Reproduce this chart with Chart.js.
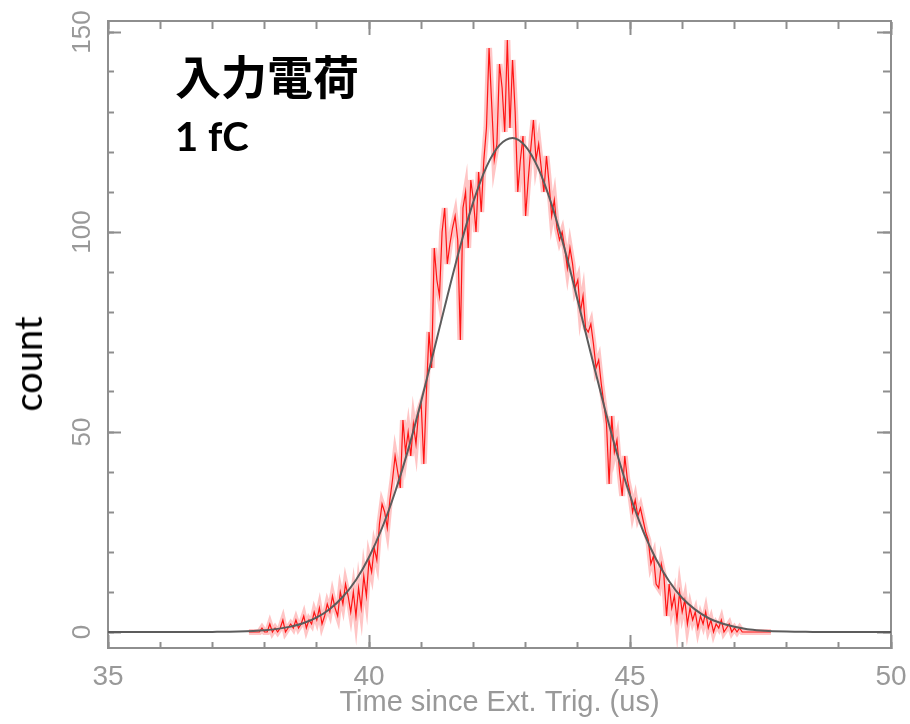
<!DOCTYPE html>
<html>
<head>
<meta charset="utf-8">
<script src="https://cdn.jsdelivr.net/npm/chart.js@4.4.1/dist/chart.umd.min.js"></script>
<style>
  html, body { margin: 0; padding: 0; background: #fff; }
  #wrap { position: relative; width: 910px; height: 724px; }
  #chart { position: absolute; left: 0; top: 0; }
  .note { position: absolute; color: #000; font-weight: 700; white-space: nowrap; }
  #charge { left: 175px; top: 51px; font-family: 'Noto Sans CJK JP'; font-size: 46px; line-height: 46px; }
  #value { left: 175px; top: 116px; font-family: Lato; font-size: 40px; line-height: 40px; }
  #ytitle { position: absolute; left: 27px; top: 364px; font-family: Lato; font-size: 38px; line-height: 38px;
            color: #000; white-space: nowrap; transform: translate(-50%, -50%) rotate(-90deg); }
</style>
</head>
<body>
<div id="wrap">
  <canvas id="chart" width="910" height="724"></canvas>
  <div class="note" id="charge">入力電荷</div>
  <div class="note" id="value">1 fC</div>
  <div id="ytitle">count</div>
</div>
<script>
// histogram: 0.05 us bins starting at 37.70 us
const binStart = 37.7;
const binWidth = 0.05;
const counts = [
  0, 0, 0, 0, 0, 1, 0, 0, 2, 0,
  1, 0, 1, 3, 0, 1, 2, 1, 3, 1,
  2, 4, 1, 3, 2, 5, 3, 6, 2, 4,
  7, 5, 9, 6, 4, 10, 7, 12, 9, 5,
  10, 4, 11, 6, 14, 9, 18, 15, 21, 18,
  27, 32, 30, 26, 33, 38, 44, 40, 36, 53,
  45, 50, 44, 52, 47, 55, 57, 42, 60, 75,
  66, 96, 88, 84, 100, 106, 92, 97, 101, 104,
  98, 73, 106, 110, 96, 113, 108, 100, 115, 105,
  118, 126, 146, 132, 118, 122, 142, 136, 125, 148,
  126, 143, 130, 110, 118, 124, 104, 113, 121, 128,
  118, 122, 116, 110, 119, 112, 104, 108, 101, 98,
  100, 96, 91, 96, 92, 86, 88, 80, 84, 76,
  75, 77, 72, 66, 68, 62, 57, 52, 37, 54,
  45, 48, 40, 34, 44, 38, 35, 30, 33, 29,
  31, 28, 25, 23, 17, 19, 12, 11, 17, 14,
  4, 12, 6, 9, 3, 10, 5, 8, 2, 6,
  3, 5, 1, 4, 2, 5, 1, 3, 0, 2,
  1, 3, 0, 1, 2, 0, 1, 0, 1, 0,
  0, 0, 0, 0, 0, 0, 0, 0, 0, 0,
  0
];

// gaussian fit curve
const fitTimes = [
  35, 36, 36.5, 37, 37.5,
  38, 38.25, 38.5, 38.75, 39, 39.25, 39.5, 39.75, 40, 40.25, 40.5, 40.75,
  41, 41.25, 41.5, 41.75, 42, 42.25, 42.5, 42.75, 43, 43.25, 43.5, 43.75,
  44, 44.25, 44.5, 44.75, 45, 45.25, 45.5, 45.75, 46, 46.25, 46.5, 46.75,
  47, 47.25, 47.5, 48, 48.5, 49, 50
];
const fitCounts = [
  0, 0, 0.01, 0.03, 0.12,
  0.43, 0.78, 1.34, 2.25, 3.66, 5.77, 8.81, 13.0, 18.7, 26.0, 35.0, 45.6,
  57.7, 70.7, 83.9, 96.5, 107.6, 116.3, 121.7, 123.5, 121.4, 115.7, 106.8, 95.6,
  82.8, 69.6, 56.7, 44.7, 34.2, 25.3, 18.2, 12.7, 8.5, 5.6, 3.5, 2.2,
  1.3, 0.7, 0.4, 0.1, 0.03, 0, 0
];

const xTicks = { min: 35, max: 50, major: 5, minor: 1 };
const yTicks = { min: -4, max: 152.75, major: 50, minor: 10 };

const frameColor = '#8e8e8e';
const labelColor = '#999999';

Chart.defaults.font.family = "'Liberation Sans', Arial, sans-serif";

function noPadding(scale) {
  scale.paddingLeft = 0;
  scale.paddingRight = 0;
  scale.paddingTop = 0;
  scale.paddingBottom = 0;
}

// extra axes only carry the inward tick marks on the frame
function tickAxis(axis, position, step, length) {
  const r = axis === 'x' ? xTicks : yTicks;
  return {
    type: 'linear',
    axis: axis,
    position: position,
    min: r.min,
    max: r.max,
    ticks: { display: false, stepSize: step, includeBounds: false },
    grid: { drawOnChartArea: false, tickLength: length, tickColor: frameColor, tickWidth: 2 },
    border: { color: frameColor, width: 2 },
    afterFit: noPadding
  };
}

const histPoints = counts.map((c, i) => ({ x: binStart + i * binWidth, y: c }));
const fitPoints = fitTimes.map((t, i) => ({ x: t, y: fitCounts[i] }));

new Chart(document.getElementById('chart'), {
  type: 'line',
  data: {
    datasets: [
      {
        label: 'fit',
        data: fitPoints,
        borderColor: '#5c5c5c',
        borderWidth: 2,
        pointRadius: 0,
        cubicInterpolationMode: 'monotone'
      },
      {
        label: 'count',
        data: histPoints,
        borderColor: '#ff1414',
        borderWidth: 1.2,
        pointRadius: 0
      },
      {
        label: 'error',
        data: histPoints,
        borderColor: 'rgba(255, 110, 110, 0.4)',
        borderWidth: 6,
        pointRadius: 0
      }
    ]
  },
  options: {
    responsive: false,
    animation: false,
    events: [],
    layout: { padding: { top: 21, right: 19, bottom: 0, left: 0 } },
    plugins: {
      legend: { display: false },
      tooltip: { enabled: false }
    },
    scales: {
      x: {
        type: 'linear',
        position: 'bottom',
        min: xTicks.min,
        max: xTicks.max,
        ticks: {
          stepSize: xTicks.major,
          includeBounds: false,
          maxRotation: 0,
          color: labelColor,
          font: { size: 28 },
          padding: 25
        },
        grid: { drawOnChartArea: false, tickLength: -13, tickColor: frameColor, tickWidth: 2 },
        border: { color: frameColor, width: 2 },
        title: {
          display: true,
          text: 'Time since Ext. Trig. (us)',
          color: labelColor,
          font: { size: 29 },
          padding: { top: 0, bottom: 4 }
        },
        afterFit: (s) => { noPadding(s); s.height = 76; }
      },
      y: {
        type: 'linear',
        position: 'left',
        min: yTicks.min,
        max: yTicks.max,
        ticks: {
          stepSize: yTicks.major,
          includeBounds: false,
          minRotation: 90,
          maxRotation: 90,
          crossAlign: 'center',
          color: labelColor,
          font: { size: 26 },
          padding: 16
        },
        grid: { drawOnChartArea: false, tickLength: -13, tickColor: frameColor, tickWidth: 2 },
        border: { color: frameColor, width: 2 },
        afterFit: (s) => { noPadding(s); s.width = 108; }
      },
      xMinor: tickAxis('x', { y: yTicks.min }, xTicks.minor, -7),
      xTop: tickAxis('x', { y: yTicks.max }, xTicks.major, 13),
      xTopMinor: tickAxis('x', { y: yTicks.max }, xTicks.minor, 7),
      yMinor: tickAxis('y', { x: xTicks.min }, yTicks.minor, -7),
      yRight: tickAxis('y', { x: xTicks.max }, yTicks.major, 13),
      yRightMinor: tickAxis('y', { x: xTicks.max }, yTicks.minor, 7)
    }
  }
});
</script>
</body>
</html>
